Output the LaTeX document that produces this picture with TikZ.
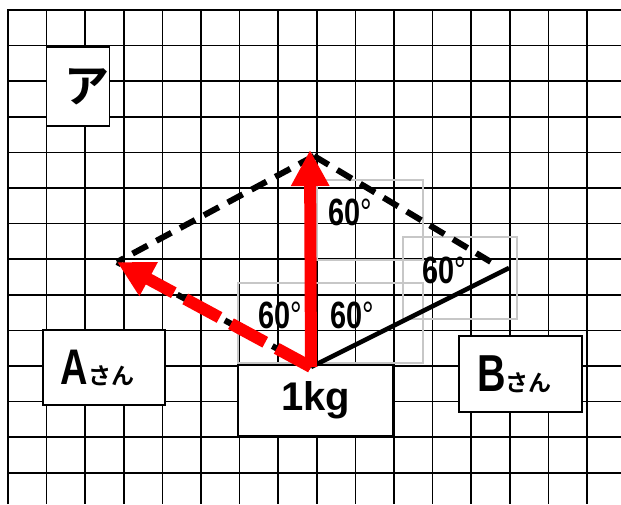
\documentclass[tikz,border=0pt]{standalone}
\usepackage{fontspec}
\setmainfont{Liberation Sans}
\newfontfamily\condfont[FakeStretch=0.76]{Liberation Sans}
\newfontfamily\jpfont[BoldFont={Noto Sans CJK JP Bold}]{Noto Sans CJK JP}
\usetikzlibrary{positioning,arrows.meta}

\begin{document}
\begin{tikzpicture}[x=1pt,y=-1pt,
  gridline/.style={line width=1.7pt,black},
  namebox/.style={draw,line width=1.6pt,fill=white,inner sep=0pt},
  anglebox/.style={draw=black!22,line width=1.1pt},
  anglelabel/.style={anchor=base west,inner sep=0pt,
    font=\condfont\bfseries\fontsize{38}{38}\selectfont},
  dashside/.style={line width=6pt,dash pattern=on 17pt off 10pt},
  force/.style={red,line width=12pt,-{Triangle[length=36pt,width=36pt]}}]
\useasboundingbox (0,0) rectangle (621,504);
% grid paper
\foreach \i in {1,...,15}
  \draw[gridline] ({8+38.6*\i},10) -- ({8+38.6*\i},504);
\foreach \j in {1,...,14}
  \draw[gridline] (8,{10+35.6*\j}) -- (621,{10+35.6*\j});
\draw[line width=2.8pt] (8,504) -- (8,10) -- (621,10);
% boxes
\node[namebox,minimum width=62pt,minimum height=79pt] (kana) at (78,86.5)
  {\hspace*{18pt}{\jpfont\bfseries\fontsize{45}{45}\selectfont ア}};
\node[namebox,minimum width=122pt,minimum height=75pt] (personA) at (104,367.5)
  {{\condfont\bfseries\fontsize{50}{50}\selectfont A}{\jpfont\bfseries\fontsize{23}{23}\selectfont さん}\hspace*{13pt}};
\node[namebox,minimum width=123pt,minimum height=76pt] (personB) at (520.5,374)
  {{\condfont\bfseries\fontsize{52}{52}\selectfont B}{\jpfont\bfseries\fontsize{23}{23}\selectfont さん}\hspace*{12pt}};
\node[namebox,line width=2.2pt,minimum width=155pt,minimum height=71pt] (weight) at (315.5,400.5)
  {\bfseries\fontsize{40}{40}\selectfont 1kg};
% angle labels
\draw[anglebox] (317,180) rectangle (423,260);
\draw[anglebox] (238,283) rectangle (423,363);
\draw[anglebox] (403,237) rectangle (517,319);
\node[anglelabel] (angTop) at (328,225) {60{\mdseries °}};
\node[anglelabel] (angLeft) at (258,328) {60{\mdseries °}};
\node[anglelabel] (angRight) at (330,328) {60{\mdseries °}};
\node[anglelabel] (angB) at (422,283) {60{\mdseries °}};
% forces
\coordinate (O) at (311,367);
\coordinate (T) at (314,156);
\coordinate (A) at (117,262);
\coordinate (B) at (509,268);
\coordinate (Bd) at (496,265);
\coordinate (F) at (310,150);
\draw[dashside] (T) -- (A);
\draw[dashside] (T) -- (Bd);
\draw[dashside] (O) -- (A);
\draw[line width=4.6pt] (O) -- (B);
\draw[force,dash pattern=on 39pt off 13pt] (O) -- (A);
\draw[force] (O) -- (F);
\end{tikzpicture}
\end{document}
